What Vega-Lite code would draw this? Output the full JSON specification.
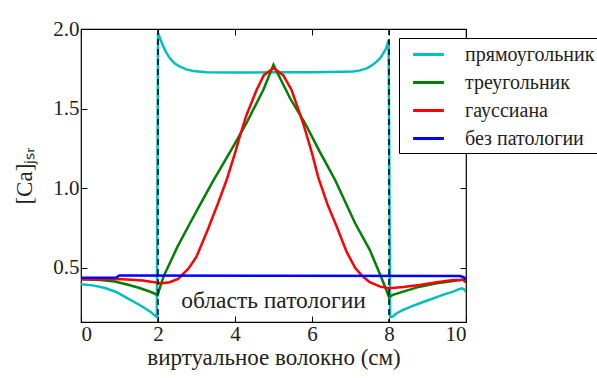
{
  "$schema": "https://vega.github.io/schema/vega-lite/v6.json",
  "width": 385,
  "height": 293,
  "autosize": {"type": "none"},
  "padding": {"left": 81, "top": 29, "right": 131, "bottom": 56},
  "background": "white",
  "config": {
    "font": "Liberation Serif",
    "view": {"stroke": "black", "strokeWidth": 1.2},
    "axis": {"grid": false, "domain": false, "tickColor": "black", "tickSize": -6, "tickWidth": 1, "labelColor": "#222", "labelFont": "Liberation Serif", "labelFontSize": 21, "titleFont": "Liberation Serif", "titleFontSize": 23, "titleFontWeight": "normal", "titleColor": "#222"}
  },
  "datasets": {
    "curves": [
      {"series": "прямоугольник", "x": 0, "y": 0.397},
      {"series": "прямоугольник", "x": 0.3, "y": 0.39},
      {"series": "прямоугольник", "x": 0.6, "y": 0.375},
      {"series": "прямоугольник", "x": 0.9, "y": 0.35},
      {"series": "прямоугольник", "x": 1.2, "y": 0.31},
      {"series": "прямоугольник", "x": 1.5, "y": 0.27},
      {"series": "прямоугольник", "x": 1.8, "y": 0.225},
      {"series": "прямоугольник", "x": 1.97, "y": 0.19},
      {"series": "прямоугольник", "x": 2.0, "y": 1.975},
      {"series": "прямоугольник", "x": 2.07, "y": 1.93},
      {"series": "прямоугольник", "x": 2.14, "y": 1.889},
      {"series": "прямоугольник", "x": 2.22, "y": 1.85},
      {"series": "прямоугольник", "x": 2.31, "y": 1.816},
      {"series": "прямоугольник", "x": 2.43, "y": 1.785},
      {"series": "прямоугольник", "x": 2.57, "y": 1.763},
      {"series": "прямоугольник", "x": 2.75, "y": 1.745},
      {"series": "прямоугольник", "x": 2.92, "y": 1.736},
      {"series": "прямоугольник", "x": 3.26, "y": 1.728},
      {"series": "прямоугольник", "x": 4.0, "y": 1.727},
      {"series": "прямоугольник", "x": 5.0, "y": 1.728},
      {"series": "прямоугольник", "x": 6.0, "y": 1.729},
      {"series": "прямоугольник", "x": 6.8, "y": 1.731},
      {"series": "прямоугольник", "x": 7.07, "y": 1.733},
      {"series": "прямоугольник", "x": 7.25, "y": 1.74},
      {"series": "прямоугольник", "x": 7.42, "y": 1.753},
      {"series": "прямоугольник", "x": 7.58, "y": 1.775},
      {"series": "прямоугольник", "x": 7.68, "y": 1.795},
      {"series": "прямоугольник", "x": 7.78, "y": 1.82},
      {"series": "прямоугольник", "x": 7.85, "y": 1.847},
      {"series": "прямоугольник", "x": 7.93, "y": 1.88},
      {"series": "прямоугольник", "x": 7.99, "y": 1.93},
      {"series": "прямоугольник", "x": 8.03, "y": 0.19},
      {"series": "прямоугольник", "x": 8.1, "y": 0.195},
      {"series": "прямоугольник", "x": 8.2, "y": 0.215},
      {"series": "прямоугольник", "x": 8.37, "y": 0.236},
      {"series": "прямоугольник", "x": 8.6, "y": 0.26},
      {"series": "прямоугольник", "x": 8.8, "y": 0.278},
      {"series": "прямоугольник", "x": 9.0, "y": 0.295},
      {"series": "прямоугольник", "x": 9.24, "y": 0.316},
      {"series": "прямоугольник", "x": 9.45, "y": 0.335},
      {"series": "прямоугольник", "x": 9.67, "y": 0.351},
      {"series": "прямоугольник", "x": 9.8, "y": 0.365},
      {"series": "прямоугольник", "x": 9.89, "y": 0.372},
      {"series": "прямоугольник", "x": 9.95, "y": 0.365},
      {"series": "прямоугольник", "x": 10, "y": 0.35},

      {"series": "треугольник", "x": 0, "y": 0.429},
      {"series": "треугольник", "x": 0.5, "y": 0.424},
      {"series": "треугольник", "x": 0.87, "y": 0.414},
      {"series": "треугольник", "x": 1.2, "y": 0.395},
      {"series": "треугольник", "x": 1.5, "y": 0.375},
      {"series": "треугольник", "x": 1.8, "y": 0.35},
      {"series": "треугольник", "x": 1.99, "y": 0.33},
      {"series": "треугольник", "x": 2.08, "y": 0.4},
      {"series": "треугольник", "x": 2.16, "y": 0.456},
      {"series": "треугольник", "x": 2.23, "y": 0.49},
      {"series": "треугольник", "x": 2.5, "y": 0.63},
      {"series": "треугольник", "x": 2.83, "y": 0.78},
      {"series": "треугольник", "x": 3.1, "y": 0.9},
      {"series": "треугольник", "x": 3.44, "y": 1.05},
      {"series": "треугольник", "x": 3.9, "y": 1.24},
      {"series": "треугольник", "x": 4.3, "y": 1.41},
      {"series": "треугольник", "x": 4.74, "y": 1.62},
      {"series": "треугольник", "x": 5.0, "y": 1.775},
      {"series": "треугольник", "x": 5.43, "y": 1.565},
      {"series": "треугольник", "x": 5.82, "y": 1.408},
      {"series": "треугольник", "x": 6.2, "y": 1.23},
      {"series": "треугольник", "x": 6.6, "y": 1.052},
      {"series": "треугольник", "x": 7.12, "y": 0.78},
      {"series": "треугольник", "x": 7.5, "y": 0.613},
      {"series": "треугольник", "x": 7.72, "y": 0.487},
      {"series": "треугольник", "x": 7.9, "y": 0.38},
      {"series": "треугольник", "x": 8.0, "y": 0.316},
      {"series": "треугольник", "x": 8.1, "y": 0.33},
      {"series": "треугольник", "x": 8.37, "y": 0.351},
      {"series": "треугольник", "x": 8.8, "y": 0.382},
      {"series": "треугольник", "x": 9.24, "y": 0.403},
      {"series": "треугольник", "x": 9.67, "y": 0.418},
      {"series": "треугольник", "x": 9.93, "y": 0.427},
      {"series": "треугольник", "x": 10, "y": 0.41},

      {"series": "гауссиана", "x": 0, "y": 0.429},
      {"series": "гауссиана", "x": 0.5, "y": 0.429},
      {"series": "гауссиана", "x": 0.96, "y": 0.43},
      {"series": "гауссиана", "x": 1.3, "y": 0.426},
      {"series": "гауссиана", "x": 1.6, "y": 0.42},
      {"series": "гауссиана", "x": 1.9, "y": 0.41},
      {"series": "гауссиана", "x": 2.1, "y": 0.404},
      {"series": "гауссиана", "x": 2.3, "y": 0.41},
      {"series": "гауссиана", "x": 2.52, "y": 0.43},
      {"series": "гауссиана", "x": 2.62, "y": 0.455},
      {"series": "гауссиана", "x": 2.79, "y": 0.495},
      {"series": "гауссиана", "x": 3.0, "y": 0.57},
      {"series": "гауссиана", "x": 3.31, "y": 0.75},
      {"series": "гауссиана", "x": 3.55, "y": 0.9},
      {"series": "гауссиана", "x": 3.78, "y": 1.05},
      {"series": "гауссиана", "x": 4.0, "y": 1.22},
      {"series": "гауссиана", "x": 4.13, "y": 1.33},
      {"series": "гауссиана", "x": 4.3, "y": 1.46},
      {"series": "гауссиана", "x": 4.56, "y": 1.617},
      {"series": "гауссиана", "x": 4.75, "y": 1.71},
      {"series": "гауссиана", "x": 5.0, "y": 1.755},
      {"series": "гауссиана", "x": 5.25, "y": 1.71},
      {"series": "гауссиана", "x": 5.47, "y": 1.617},
      {"series": "гауссиана", "x": 5.77, "y": 1.408},
      {"series": "гауссиана", "x": 6.0, "y": 1.22},
      {"series": "гауссиана", "x": 6.16, "y": 1.07},
      {"series": "гауссиана", "x": 6.4, "y": 0.9},
      {"series": "гауссиана", "x": 6.64, "y": 0.76},
      {"series": "гауссиана", "x": 6.9, "y": 0.6},
      {"series": "гауссиана", "x": 7.12, "y": 0.5},
      {"series": "гауссиана", "x": 7.3, "y": 0.45},
      {"series": "гауссиана", "x": 7.5, "y": 0.41},
      {"series": "гауссиана", "x": 7.77, "y": 0.382},
      {"series": "гауссиана", "x": 8.0, "y": 0.372},
      {"series": "гауссиана", "x": 8.37, "y": 0.38},
      {"series": "гауссиана", "x": 8.8, "y": 0.393},
      {"series": "гауссиана", "x": 9.24, "y": 0.41},
      {"series": "гауссиана", "x": 9.67, "y": 0.424},
      {"series": "гауссиана", "x": 9.93, "y": 0.424},
      {"series": "гауссиана", "x": 10, "y": 0.41},

      {"series": "без патологии", "x": 0, "y": 0.438},
      {"series": "без патологии", "x": 0.9, "y": 0.438},
      {"series": "без патологии", "x": 1.0, "y": 0.452},
      {"series": "без патологии", "x": 1.1, "y": 0.452},
      {"series": "без патологии", "x": 5.0, "y": 0.45},
      {"series": "без патологии", "x": 9.85, "y": 0.449},
      {"series": "без патологии", "x": 9.95, "y": 0.44},
      {"series": "без патологии", "x": 10, "y": 0.425}
    ],
    "bounds": [{"x": 2}, {"x": 8}],
    "note": [{"x": 5, "y": 0.29, "label": "область патологии"}]
  },
  "layer": [
    {
      "data": {"name": "curves"},
      "mark": {"type": "line", "strokeWidth": 2.5, "clip": true},
      "encoding": {
        "x": {"field": "x", "type": "quantitative", "scale": {"domain": [0, 10], "nice": false, "zero": false},
              "axis": {"values": [0, 2, 4, 6, 8, 10], "format": "d", "title": "виртуальное волокно (см)", "labelPadding": 7, "titlePadding": 2}},
        "y": {"field": "y", "type": "quantitative", "scale": {"domain": [0.16, 2.0], "nice": false, "zero": false},
              "axis": {"values": [0.5, 1, 1.5, 2], "format": ".1f", "title": "[Ca]ⱼₛᵣ", "labelPadding": 8, "titlePadding": 16}},
        "color": {"field": "series", "type": "nominal",
                  "scale": {"domain": ["прямоугольник", "треугольник", "гауссиана", "без патологии"], "range": ["#00bfbf", "#008000", "#ff0000", "#0000ff"]},
                  "legend": {"orient": "none", "legendX": 318, "legendY": 9, "title": null, "symbolType": "M-1.4,0H1.4", "symbolSize": 484, "symbolStrokeWidth": 3, "labelFontSize": 20, "labelFont": "Liberation Serif", "labelColor": "#222", "labelOffset": 24, "padding": 4, "symbolOffset": 13, "rowPadding": 5, "strokeColor": "black", "fillColor": "white", "cornerRadius": 0}}
      }
    },
    {
      "data": {"name": "bounds"},
      "mark": {"type": "rule", "strokeDash": [6, 4], "strokeWidth": 1.5, "color": "black"},
      "encoding": {"x": {"field": "x", "type": "quantitative", "axis": null}}
    },
    {
      "data": {"name": "note"},
      "mark": {"type": "text", "fontSize": 23.5, "font": "Liberation Serif", "color": "#222"},
      "encoding": {
        "x": {"field": "x", "type": "quantitative", "axis": {"orient": "top", "labels": false, "title": null, "values": [0, 2, 4, 6, 8, 10]}},
        "y": {"field": "y", "type": "quantitative", "axis": {"orient": "right", "labels": false, "title": null, "values": [0.5, 1, 1.5, 2]}},
        "text": {"field": "label"}
      }
    }
  ],
  "resolve": {"axis": {"x": "independent", "y": "independent"}}
}
